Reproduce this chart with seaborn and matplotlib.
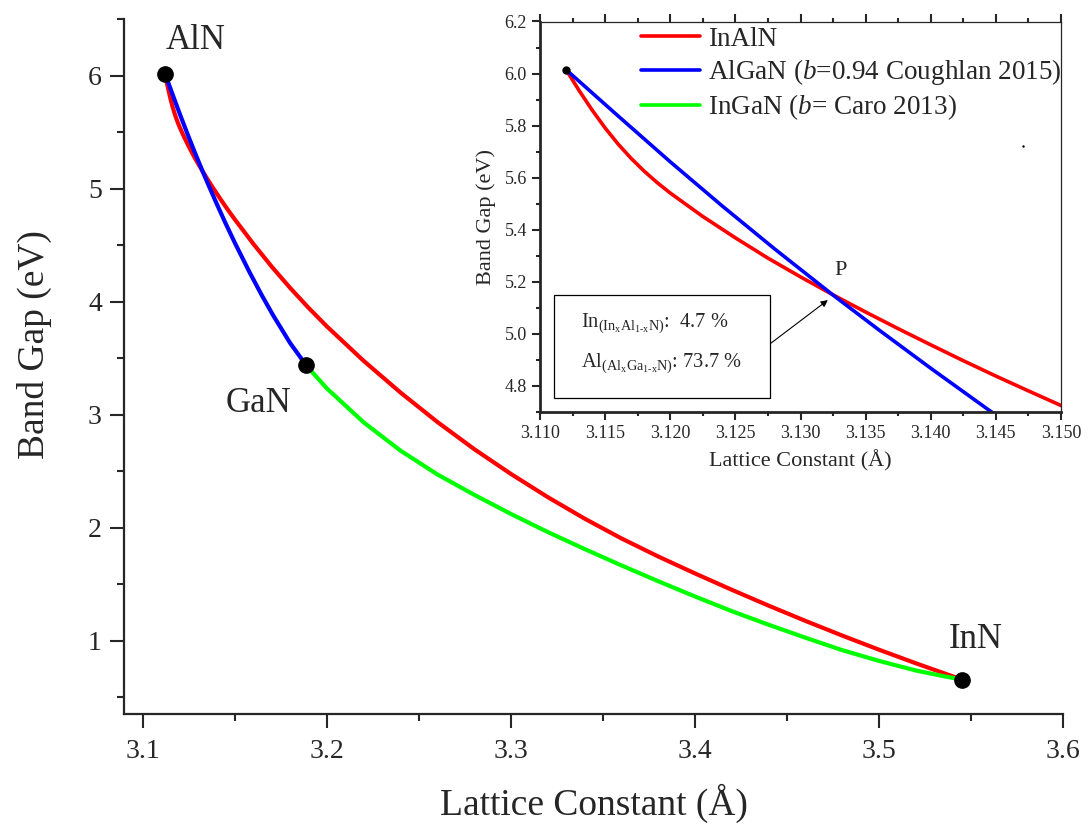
import matplotlib
matplotlib.use("Agg")
import matplotlib.pyplot as plt
import seaborn as sns
from matplotlib.patches import Rectangle
from matplotlib.lines import Line2D
from matplotlib.ticker import MultipleLocator, FormatStrFormatter

# -------------------------
# Data
# -------------------------
binary_names = ["AlN", "GaN", "InN"]
binary_a = [3.112, 3.1884, 3.545]
binary_eg = [6.015, 3.44, 0.655]

# InAlN (red) : AlN -> InN
inaln_a = [3.112, 3.113, 3.114, 3.115, 3.116, 3.117, 3.118, 3.119, 3.120, 3.1225,
           3.125, 3.1275, 3.130, 3.1325, 3.135, 3.1375, 3.140, 3.1425, 3.145, 3.1475,
           3.150, 3.16, 3.17, 3.18, 3.19, 3.20, 3.22, 3.24, 3.26, 3.28,
           3.30, 3.32, 3.34, 3.36, 3.38, 3.40, 3.42, 3.44, 3.46, 3.48,
           3.50, 3.52, 3.545]
inaln_eg = [6.015, 5.935, 5.860, 5.791, 5.729, 5.674, 5.625, 5.581, 5.541, 5.451,
            5.369, 5.291, 5.219, 5.150, 5.084, 5.020, 4.958, 4.897, 4.838, 4.781,
            4.725, 4.510, 4.308, 4.120, 3.944, 3.779, 3.474, 3.194, 2.934, 2.694,
            2.474, 2.269, 2.079, 1.904, 1.744, 1.594, 1.449, 1.309, 1.174, 1.044,
            0.919, 0.799, 0.655]

# AlGaN (blue) : AlN -> GaN
algan_a = [3.112, 3.116, 3.120, 3.124, 3.128, 3.1325, 3.136, 3.140, 3.1445, 3.150,
           3.158, 3.1645, 3.1707, 3.180, 3.1884]
algan_eg = [6.015, 5.837, 5.661, 5.491, 5.327, 5.149, 5.016, 4.868, 4.706, 4.517,
            4.257, 4.058, 3.879, 3.632, 3.443]

# InGaN (green) : GaN -> InN
ingan_a = [3.1884, 3.20, 3.22, 3.24, 3.26, 3.28, 3.30, 3.32, 3.34, 3.36,
           3.38, 3.40, 3.42, 3.44, 3.46, 3.48, 3.50, 3.52, 3.535, 3.545]
ingan_eg = [3.44, 3.23, 2.93, 2.68, 2.47, 2.29, 2.12, 1.96, 1.81, 1.665,
            1.525, 1.39, 1.26, 1.14, 1.025, 0.915, 0.82, 0.735, 0.685, 0.655]

series_names = ["InAlN", r"AlGaN ($\mathit{b}$=0.94 Coughlan 2015)", r"InGaN ($\mathit{b}$= Caro 2013)"]
series_colors = ["#ff0000", "#0000ff", "#00ff00"]

# crossing point P in the inset
p_a, p_eg = 3.1321, 5.13
in_frac = "4.7 %"
al_frac = "73.7 %"

# -------------------------
# Style
# -------------------------
sns.set_theme(style="ticks")
plt.rcParams["font.family"] = ["Liberation Serif", "DejaVu Serif"]
plt.rcParams["mathtext.fontset"] = "custom"
plt.rcParams["mathtext.rm"] = "Liberation Serif"
plt.rcParams["mathtext.it"] = "Liberation Serif:italic"
plt.rcParams["axes.linewidth"] = 1.6

fig = plt.figure(figsize=(10.88, 8.24), dpi=100)
W, H = 1088, 824

# ==========================
# Main axes
# ==========================
ax = fig.add_axes([124 / W, 1 - 714 / H, (1063 - 124) / W, (714 - 19) / H])
for xs, ys, c in zip([inaln_a, algan_a, ingan_a], [inaln_eg, algan_eg, ingan_eg], series_colors):
    sns.lineplot(x=xs, y=ys, color=c, lw=3, sort=False, estimator=None, ax=ax)
ax.plot(binary_a, binary_eg, "o", color="black", ms=11, zorder=5)

ax.text(3.1288, 6.31, "AlN", fontsize=25, ha="center", va="center")
ax.text(3.1625, 3.10, "GaN", fontsize=25, ha="center", va="center")
ax.text(3.5527, 1.01, "InN", fontsize=25, ha="center", va="center")

ax.set_xlim(3.0897, 3.6)
ax.set_ylim(0.35, 6.5)
ax.xaxis.set_major_locator(MultipleLocator(0.1))
ax.xaxis.set_minor_locator(MultipleLocator(0.05))
ax.yaxis.set_major_locator(MultipleLocator(1))
ax.yaxis.set_minor_locator(MultipleLocator(0.5))
ax.xaxis.set_major_formatter(FormatStrFormatter("%.1f"))
ax.tick_params(which="major", length=10, width=1.5, labelsize=20, direction="out")
ax.tick_params(which="minor", length=5, width=1.5, direction="out")
ax.tick_params(axis="x", pad=8)
ax.tick_params(axis="y", pad=6)
ax.spines["top"].set_visible(False)
ax.spines["right"].set_visible(False)
ax.set_xlabel("Lattice Constant (Å)", fontsize=27, labelpad=14)
ax.set_ylabel("Band Gap (eV)", fontsize=27, labelpad=26, y=0.531)

# ==========================
# Inset
# ==========================
axi = fig.add_axes([540 / W, 1 - 412 / H, 521 / W, 390.5 / H])
for xs, ys, c in zip([inaln_a, algan_a, ingan_a], [inaln_eg, algan_eg, ingan_eg], series_colors):
    sns.lineplot(x=xs, y=ys, color=c, lw=2.6, sort=False, estimator=None, ax=axi)
axi.plot(binary_a[0], binary_eg[0], "o", color="black", ms=5, zorder=5)
axi.plot(3.1471, 5.72, ".", color="black", ms=1.5)

axi.set_xlim(3.110, 3.150)
axi.set_ylim(4.7, 6.2)
axi.xaxis.set_major_locator(MultipleLocator(0.005))
axi.xaxis.set_minor_locator(MultipleLocator(0.0025))
axi.yaxis.set_major_locator(MultipleLocator(0.2))
axi.yaxis.set_minor_locator(MultipleLocator(0.1))
axi.xaxis.set_major_formatter(FormatStrFormatter("%.3f"))
axi.yaxis.set_major_formatter(FormatStrFormatter("%.1f"))
axi.tick_params(which="major", length=6, width=1.5, labelsize=13, direction="out", top=True)
axi.tick_params(which="minor", length=3, width=1.5, direction="out", top=True)
axi.spines["left"].set_linewidth(2)
axi.spines["bottom"].set_linewidth(2)
axi.spines["top"].set_linewidth(0.9)
axi.spines["right"].set_linewidth(0.9)
axi.set_xlabel("Lattice Constant (Å)", fontsize=16, labelpad=6)
axi.set_ylabel("Band Gap (eV)", fontsize=16, labelpad=6)

handles = [Line2D([], [], color=c, lw=2.6) for c in series_colors]
axi.legend(handles, series_names, loc="upper left", bbox_to_anchor=(0.183, 1.0),
           frameon=False, fontsize=19.5, handlelength=2.2, handletextpad=0.3,
           labelspacing=0.2, borderpad=0.2, borderaxespad=0)

# composition box and arrow to P
axi.add_patch(Rectangle((0.027, 0.036), 0.415, 0.264, transform=axi.transAxes,
                        fill=False, ec="black", lw=0.9, zorder=6))
axi.text(0.079, 0.228, r"In$_{\mathrm{(In_xAl_{1\text{-}x}N)}}$:  " + in_frac,
         transform=axi.transAxes, fontsize=14.7, va="center", ha="left")
axi.text(0.079, 0.125, r"Al$_{\mathrm{(Al_xGa_{1\text{-}x}N)}}$: " + al_frac,
         transform=axi.transAxes, fontsize=14.7, va="center", ha="left")
axi.annotate("", xy=(p_a, p_eg), xycoords="data", xytext=(0.443, 0.176),
             textcoords="axes fraction",
             arrowprops=dict(arrowstyle="-|>", lw=0.8, color="black", mutation_scale=10,
                             shrinkA=0, shrinkB=0))
axi.text(3.1331, 5.242, "P", fontsize=16, ha="center", va="center")

fig.savefig("out.png", dpi=100)
